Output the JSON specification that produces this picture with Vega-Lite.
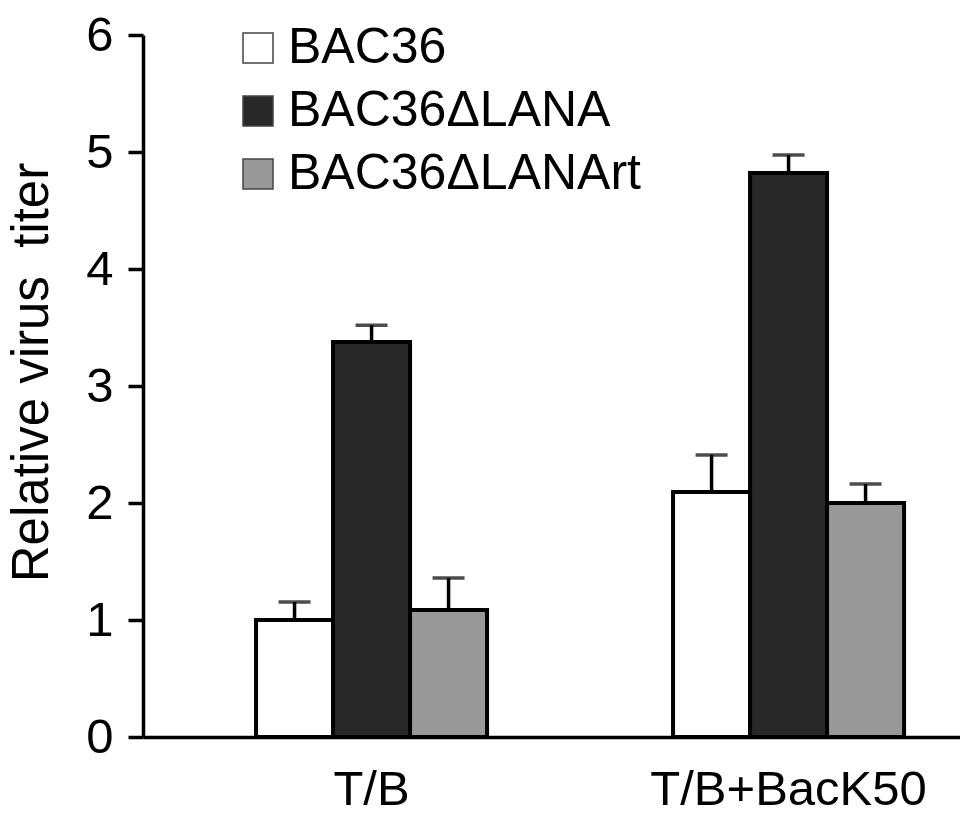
{
  "$schema": "https://vega.github.io/schema/vega-lite/v6.json",
  "autosize": {"type": "none"},
  "padding": {"left": 143, "top": 35, "right": 0, "bottom": 86},
  "width": 817,
  "height": 702,
  "background": "white",
  "config": {
    "view": {"stroke": null},
    "font": "Liberation Sans",
    "axis": {"labelFont": "Liberation Sans", "titleFont": "Liberation Sans", "labelColor": "black", "titleColor": "black", "domainColor": "black", "tickColor": "black"}
  },
  "data": {
    "values": [
      {"group": "T/B", "series": "BAC36", "value": 1.0, "upper": 1.154},
      {"group": "T/B", "series": "BAC36ΔLANA", "value": 3.376, "upper": 3.52},
      {"group": "T/B", "series": "BAC36ΔLANArt", "value": 1.085, "upper": 1.359},
      {"group": "T/B+BacK50", "series": "BAC36", "value": 2.094, "upper": 2.41},
      {"group": "T/B+BacK50", "series": "BAC36ΔLANA", "value": 4.82, "upper": 4.974},
      {"group": "T/B+BacK50", "series": "BAC36ΔLANArt", "value": 2.0, "upper": 2.162}
    ]
  },
  "encoding": {
    "x": {
      "field": "group", "type": "nominal", "sort": ["T/B", "T/B+BacK50"],
      "scale": {"paddingInner": 0.446, "paddingOuter": 0.2026, "align": 0.669},
      "axis": {"title": null, "labelAngle": 0, "ticks": false, "domainWidth": 3.5, "labelFontSize": 49, "labelPadding": 28, "labelLimit": 600}
    },
    "xOffset": {
      "field": "series", "type": "nominal",
      "sort": ["BAC36", "BAC36ΔLANA", "BAC36ΔLANArt"],
      "scale": {"paddingInner": 0, "paddingOuter": 0}
    }
  },
  "layer": [
    {
      "mark": {"type": "bar", "stroke": "black", "strokeWidth": 4},
      "encoding": {
        "y": {
          "field": "value", "type": "quantitative",
          "scale": {"domain": [0, 6], "nice": false},
          "axis": {
            "values": [0, 1, 2, 3, 4, 5, 6], "format": "d", "grid": false, "domainWidth": 3.5,
            "tickSize": 15, "tickWidth": 3.5, "labelFontSize": 49, "labelPadding": 15,
            "title": "Relative virus\u00a0 titer", "titleFontSize": 51, "titleFontWeight": "normal",
            "titleAngle": -90, "titleAlign": "center", "titleBaseline": "middle",
            "titleX": -111, "titleY": 337
          }
        },
        "fill": {
          "field": "series", "type": "nominal",
          "scale": {"domain": ["BAC36", "BAC36ΔLANA", "BAC36ΔLANArt"], "range": ["#ffffff", "#282828", "#999999"]},
          "legend": {
            "title": null, "orient": "none", "legendX": 90, "legendY": -12,
            "symbolType": "square", "symbolSize": 900, "symbolStrokeColor": "#444444", "symbolStrokeWidth": 1.5,
            "labelFontSize": 50, "labelFont": "Liberation Sans", "labelColor": "black", "labelOffset": 5,
            "rowPadding": 13, "padding": 0, "labelLimit": 600
          }
        }
      }
    },
    {
      "mark": {"type": "rule", "color": "black", "strokeWidth": 3.5},
      "encoding": {
        "y": {"field": "value", "type": "quantitative"},
        "y2": {"field": "upper"}
      }
    },
    {
      "mark": {"type": "tick", "color": "black", "size": 32, "thickness": 3.5},
      "encoding": {
        "y": {"field": "upper", "type": "quantitative"}
      }
    }
  ]
}
